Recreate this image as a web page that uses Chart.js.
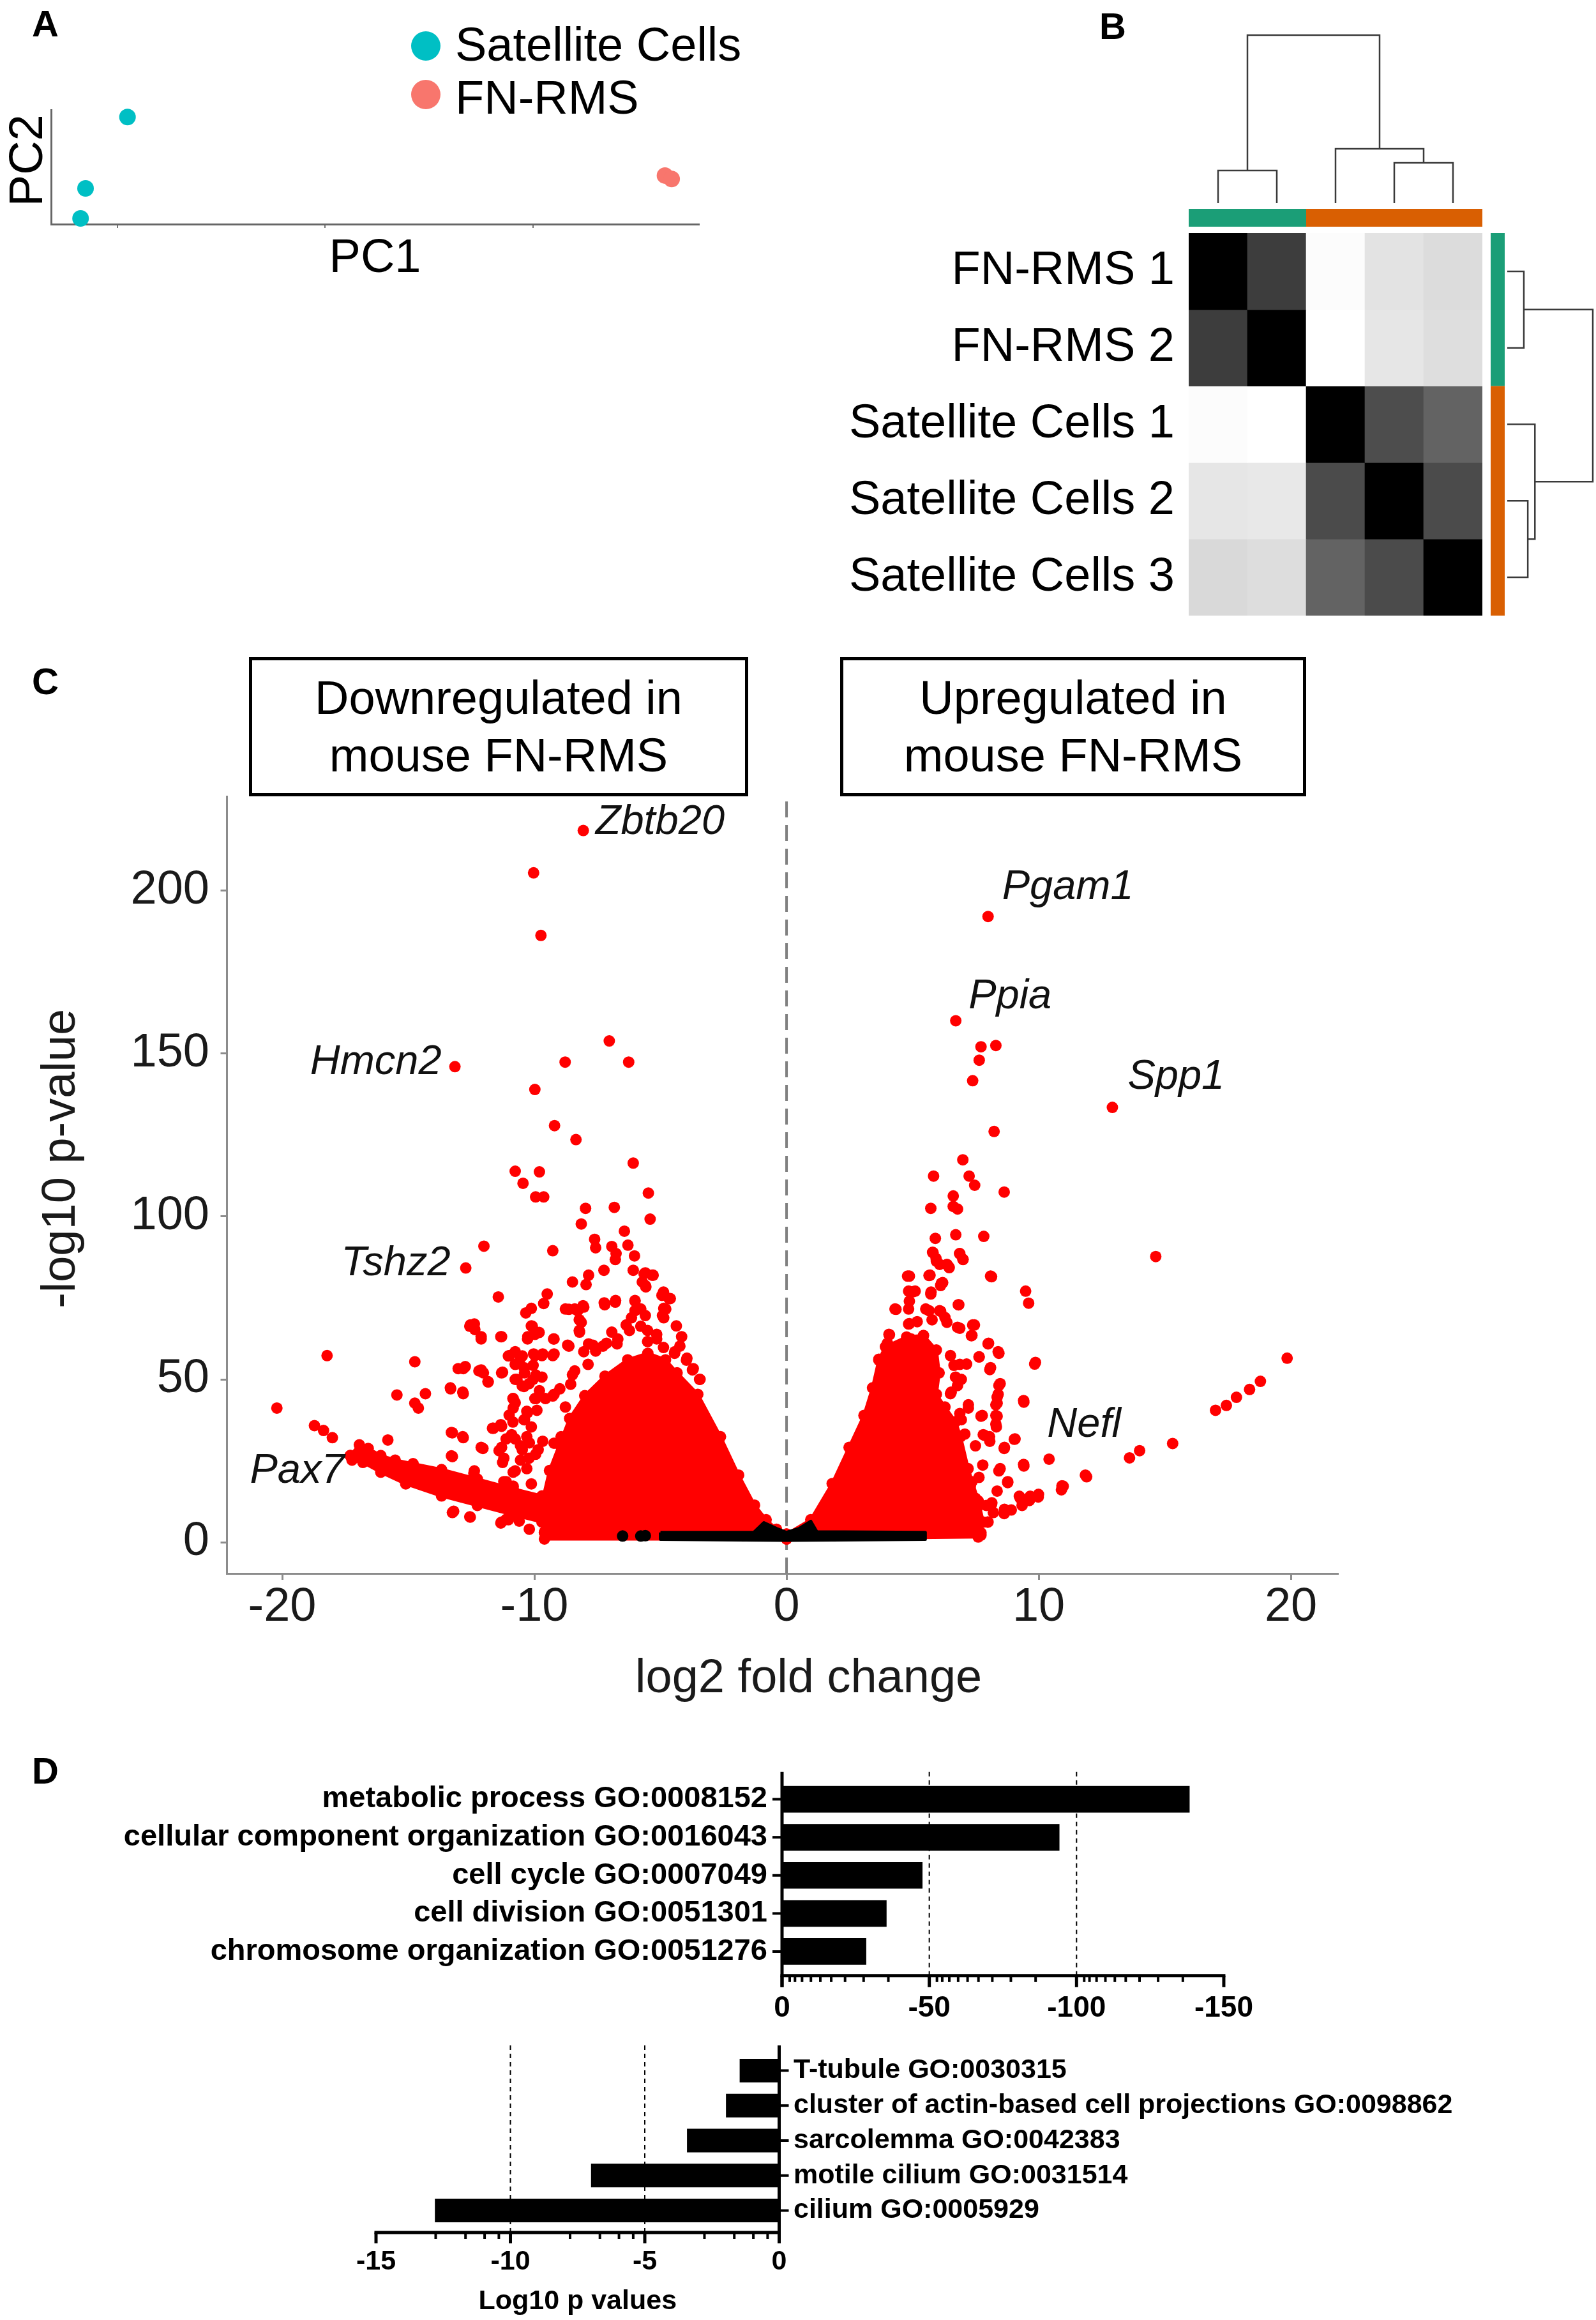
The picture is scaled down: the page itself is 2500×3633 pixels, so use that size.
<!DOCTYPE html>
<html>
<head>
<meta charset="utf-8">
<title>FN-RMS figure</title>
<script src="https://cdn.jsdelivr.net/npm/chart.js@4.4.1/dist/chart.umd.min.js"></script>
<style>
html, body { margin:0; padding:0; background:#fff; }
body { position:relative; width:2500px; height:3633px; overflow:hidden; font-family:'Liberation Sans', Arial, Helvetica, sans-serif; color:#000; }
canvas { position:absolute; }
.panel { position:absolute; font-weight:bold; font-size:58px; line-height:58px; }
.box { position:absolute; border:5px solid #000; box-sizing:border-box; display:flex; align-items:center; justify-content:center; text-align:center; font-size:74px; line-height:90px; }
.legdot { position:absolute; width:46px; height:46px; border-radius:50%; }
.legtxt { position:absolute; font-size:74px; line-height:74px; white-space:nowrap; }
</style>
</head>
<body>
<div class="panel" style="left:50px;top:8px;">A</div>
<div class="panel" style="left:1722px;top:12px;">B</div>
<div class="panel" style="left:50px;top:1038px;">C</div>
<div class="panel" style="left:50px;top:2744px;">D</div>
<div class="box" style="left:390px;top:1029px;width:782px;height:218px;">Downregulated in<br>mouse FN-RMS</div>
<div class="box" style="left:1316px;top:1029px;width:730px;height:218px;">Upregulated in<br>mouse FN-RMS</div>
<script>
// ---------------- DATA ----------------
// Panel A: PCA
const pcaGroups = ['Satellite Cells', 'FN-RMS'];
const pcaColors = ['#00BFC4', '#F8766D'];
const satPC1 = [-47.6, -57.7, -58.9];
const satPC2 = [17.5, -7.5, -18.0];
const fnPC1 = [81.8, 83.4];
const fnPC2 = [-3.0, -4.2];
const pcaXTicks = [-50, 0, 50];

// Panel B: sample-distance heatmap (darkness 0 = white, 1 = black)
const samples = ['FN-RMS 1', 'FN-RMS 2', 'Satellite Cells 1', 'Satellite Cells 2', 'Satellite Cells 3'];
const sampleGroup = [0, 0, 1, 1, 1];
const groupColors = ['#1B9E77', '#D95F02'];
const similarity = [
  [1.00, 0.76, 0.012, 0.11, 0.137],
  [0.76, 1.00, 0.00, 0.098, 0.129],
  [0.012, 0.00, 1.00, 0.70, 0.61],
  [0.10, 0.09, 0.706, 1.00, 0.706],
  [0.149, 0.133, 0.61, 0.706, 1.00]
];
// hierarchical merges: [nodeA, nodeB, height]; nodes 0-4 leaves, 5+ previous merges
const merges = [[0, 1, 0.194], [3, 4, 0.240], [2, 6, 0.323], [5, 7, 1.0]];

// Panel C: volcano plot  [log2 fold change, -log10 p]
const volcanoXTicks = [-20, -10, 0, 10, 20];
const volcanoYTicks = [0, 50, 100, 150, 200];
const downGenes = [
[-8.06,218.5],[-10.03,205.5],[-9.74,186.3],[-7.03,153.9],[-8.78,147.4],[-6.26,147.4],[-13.15,146.0],[-9.98,139.0],[-9.20,127.9],[-8.35,123.6],[-6.08,116.4],[-10.76,113.9],[-9.80,113.7],[-10.45,110.2],[-9.95,106.0],[-9.63,106.0],[-5.48,107.2],[-7.97,102.5],[-6.83,102.8],[-5.41,99.2],
[-8.14,97.7],[-6.43,95.5],[-12.0,90.9],[-9.27,89.5],[-12.72,84.2],[-7.61,93.0],[-7.57,90.4],[-6.93,90.8],[-6.76,88.6],[-6.29,91.2],[-6.03,87.9],[-6.79,86.8],[-7.24,83.5],[-7.85,82.0],[-7.95,79.1],[-8.49,79.9],[-6.08,83.5],[-5.65,82.4],[-5.29,82.0],[-5.72,79.9],[-5.58,78.4],[-11.43,75.3],[-9.49,76.2],[-9.63,73.3],[-10.12,71.8],[-10.34,70.4],[-7.21,72.9],[-6.79,73.7],[-8.63,71.5],[-8.28,71.1],[-8.07,72.6],[-6.01,74.0],[-4.94,75.8],[-4.66,74.8],[-4.87,71.8],[-4.87,68.9],[-6.15,68.9],[-6.36,66.7],[-6.01,71.1],[-12.54,66.7],[-12.36,65.3],[-12.11,62.4],[-11.33,63.1],[-10.12,66.4],[-9.98,63.8],[-10.27,62.4],[-9.24,62.4],[-8.63,60.2],[-8.14,67.5],[-8.21,64.5],[-4.37,66.4],[-4.16,63.1],[-4.23,60.2],[-5.15,63.8],[-5.51,61.6],[-6.93,64.5],[-6.72,60.9],[-7.28,60.2],[-7.85,60.9],[-7.57,58.7],
[-18.22,57.3],[-14.74,55.4],[-12.82,53.3],[-12.11,52.9],[-11.83,49.2],[-11.26,52.2],[-10.98,57.3],[-10.55,56.5],[-10.41,53.6],[-9.98,57.3],[-9.70,57.3],[-9.27,57.3],[-10.05,54.3],[-10.69,50.0],[-10.05,50.0],[-9.70,50.7],[-10.41,47.8],[-4.44,58.0],[-3.95,56.5],[-3.73,52.9],[-3.45,50.0],[-8.49,51.4],
[-15.45,45.2],[-14.32,45.6],[-13.32,47.1],[-12.82,45.6],[-14.74,42.7],[-14.60,41.2],[-10.84,44.1],[-9.98,44.1],[-9.56,44.1],[-10.84,41.2],[-10.27,39.8],[-9.27,44.9],[-8.99,47.1],[-8.56,48.5],[-7.99,44.9],[-7.43,47.1],
[-20.21,41.2],[-18.72,35.8],[-18.36,34.3],[-18.01,32.1],[-13.25,33.6],[-12.82,32.1],[-11.62,35.0],[-11.33,36.1],[-15.81,31.4],[-12.04,28.8],[-13.25,26.3],[-12.40,21.2],[-11.12,18.6],[-13.25,9.1],[-12.54,7.7],[-11.33,5.9],[-11.12,7.0],[-11.26,24.5],[-10.84,21.5],
[-11.12,31.7],[-10.55,29.6],[-11.4,28.1],[-10.55,25.2],[-10.12,35.4],[-10.41,37.6],[-11.26,15.0],[-10.41,13.5],[-10.12,17.9],[-10.84,17.2],[-10.2,30.5],[-9.95,27.0],[-10.9,33.0],[-11.0,39.0],[-9.9,40.5],[-9.8,46.5],
[-10.2,4.0],[-10.6,6.5],[-10.0,10.0],
[-5.60,82.7],[-5.33,82.0],[-5.60,78.8],[-4.88,76.8],[-4.61,74.8],[-4.79,71.6],[-4.92,69.6],[-6.01,74.2],[-5.78,71.6],[-5.60,69.6],[-7.23,73.5],[-6.78,74.2],[-8.77,71.6],[-8.40,71.6],[-8.04,72.2],[-8.22,68.3],[-8.22,65.0],[-9.22,62.4],[-8.68,60.5],[-10.08,66.3],[-9.81,64.4],[-10.26,63.1],[-11.30,63.1],[-12.56,66.3],[-12.38,67.0],[-12.11,63.1],[-11.03,57.2],[-10.76,58.5],[-10.48,57.2],[-10.03,57.8],[-9.67,57.8],[-9.22,57.8],[-10.76,54.6],[-10.39,52.0],[-9.94,51.3],[-10.76,50.0],[-10.48,48.0],[-10.21,48.7],[-11.30,52.0],[-13.02,53.3],[-12.74,53.9],[-12.20,52.6],[-12.02,52.0],[-11.84,49.3],[-13.33,47.4],[-12.84,46.1],[-10.85,44.1],[-10.76,42.8],[-9.94,44.1],[-10.30,40.2],[-10.39,37.6],[-10.85,36.9],[-11.30,35.6],[-11.66,35.0],[-13.29,33.7],[-12.84,32.4],[-12.11,29.1],[-13.29,26.5],[-11.30,29.1],[-11.21,25.8],[-10.76,31.7],[-10.30,32.4],[-10.48,28.4],[-10.21,25.8],[-9.85,28.4],[-9.67,31.0],[-9.22,30.4],[-8.94,32.4],[-12.38,21.9],[-11.21,18.6],[-10.76,21.9],[-10.30,22.6],[-13.20,9.5],[-12.56,7.8],[-11.30,6.2],[-11.03,6.9],[-9.58,5.6],[-8.77,3.6],[-8.22,2.6],[-7.68,2.6],[-8.40,37.6],[-8.04,36.9],[-8.40,34.3],[-8.77,41.5],[-9.22,45.4],[-8.40,52.6],[-7.87,54.6],[-8.04,58.5],[-7.68,60.5],[-7.14,61.1],[-6.69,62.4],[-6.23,65.0],[-5.78,66.3],[-5.51,65.0],[-5.15,62.4],[-4.88,59.8],[-4.43,58.5],[-3.97,55.9],[-3.70,53.3],[-3.43,50.0]
];
const upGenes = [
[7.99,192.1],[6.71,160.1],[7.71,152.1],[8.30,152.5],[7.64,148.0],[7.38,141.7],[12.92,133.5],[8.23,126.1],[6.99,117.4],[5.83,112.4],[7.24,112.4],[7.46,109.6],[8.63,107.5],[6.61,106.3],[5.72,102.5],[6.61,103.1],[6.78,102.3],
[6.71,94.4],[7.82,93.9],[5.90,93.3],[5.79,89.0],[5.93,87.1],[6.86,88.6],[7.00,86.8],[6.07,85.3],[6.43,84.6],[14.64,87.7],[4.87,81.7],[5.65,81.9],[6.14,79.5],[8.13,81.5],[9.48,77.1],[9.60,73.4],[5.72,76.2],[5.01,76.9],[4.87,74.0],[6.81,72.9],[4.34,71.5],[5.65,71.1],[6.07,71.1],[4.87,67.1],[6.36,67.5],[6.78,66.0],[7.45,66.7],[7.35,63.5],[4.06,63.8],[4.94,62.4],[7.99,60.9],[8.42,58.0],[7.64,56.9],[9.84,54.7],[3.66,56.2],[7.14,54.7],[8.06,53.0],[8.42,48.1],[6.78,48.1],
[19.85,56.5],[18.79,49.4],[18.36,46.9],[17.84,44.5],[17.44,42.0],[17.01,40.5],
[9.41,43.0],[8.35,44.5],[8.35,42.7],[7.71,38.7],[8.35,38.7],[8.32,35.4],[7.85,32.8],[8.06,31.0],[9.03,31.6],[8.63,28.8],[10.41,25.5],[15.31,30.3],[14.00,28.1],[13.60,25.9],[9.41,23.4],[8.42,21.9],[11.90,20.1],[8.77,18.3],[10.97,17.2],[10.90,16.1],[9.98,13.9],[9.63,12.8],[9.27,13.5],[9.34,11.3],[8.91,9.9],[8.63,8.8],[8.20,9.1],[7.92,11.3],[8.13,11.7],[7.71,2.2],[7.99,6.2],[7.49,13.5],[7.56,10.6],[7.21,12.8],
[6.50,57.3],[6.64,54.3],[6.93,50.0],[6.50,45.6],[7.21,41.2],[6.93,37.6],[7.07,33.2],[7.49,29.6],[6.93,25.2],[7.78,23.7],[7.35,18.6],[6.64,15.0],[8.35,15.7],[6.50,9.9],[7.21,7.7],[6.64,4.8],[6.07,3.3],[7.07,3.3],
[5.81,88.9],[6.87,88.6],[6.99,86.9],[5.94,86.3],[6.36,85.3],[6.45,84.3],[4.80,81.7],[5.69,82.0],[6.19,79.7],[6.11,78.8],[8.09,81.7],[4.84,77.1],[5.10,77.1],[5.73,76.8],[6.83,72.9],[4.30,71.6],[4.84,71.6],[5.52,71.6],[6.11,70.9],[4.84,67.0],[5.18,67.7],[5.77,68.3],[6.28,69.0],[6.87,65.7],[7.38,66.7],[7.33,63.4],[4.08,63.7],[4.00,61.1],[8.01,61.1],[8.39,58.5],[7.63,56.9],[8.09,53.6],[9.87,55.2],[6.87,54.6],[6.70,50.7],[6.53,46.1],[8.47,48.7],[8.39,45.4],[8.30,42.2],[8.30,38.9],[8.30,36.3],[9.40,43.5],[7.21,42.2],[6.87,39.5],[7.76,38.9],[7.80,33.0],[8.05,32.4],[9.06,31.7],[8.64,29.1],[9.40,23.9],[8.47,22.6],[8.77,18.6],[9.23,14.1],[9.66,14.1],[9.99,14.7],[11.85,20.6],[10.92,17.3],[8.64,10.1],[8.14,12.1],[7.97,6.2],[7.71,2.9],[7.12,21.9],[7.63,19.9],[7.29,17.3]
];
// outlines of the densely overplotted regions
const downCloud = [[-9.6,3.0],[-9.7,12.0],[-9.4,22.0],[-9.0,30.0],[-8.6,38.0],[-8.0,45.0],[-7.2,51.0],[-6.3,56.0],[-5.5,58.0],[-4.8,56.0],[-4.34,52.0],[-3.52,45.4],[-2.62,32.4],[-1.90,20.6],[-1.27,11.4],[-0.81,6.9],[-0.40,4.0],[0.0,2.2],[0.0,1.0],[-9.6,1.0],[-9.6,3.0]];
const pax7Band = [[-17.30,26.6],[-16.94,29.9],[-16.59,28.8],[-16.09,26.6],[-15.52,25.2],[-14.81,24.1],[-13.68,22.3],[-12.26,19.4],[-10.84,16.4],[-9.70,14.2],[-9.70,6.2],[-10.84,8.4],[-12.26,11.3],[-13.68,14.2],[-15.10,17.9],[-16.09,21.5],[-16.80,24.5],[-17.23,25.2],[-17.30,26.6]];
const upCloud = [[0.0,2.5],[0.96,6.9],[1.81,18.0],[2.48,29.1],[3.07,38.9],[3.41,47.4],[3.66,55.9],[3.92,60.0],[4.76,63.0],[5.43,63.5],[5.94,59.0],[6.05,52.0],[5.94,45.4],[6.28,41.5],[6.70,37.0],[6.90,32.4],[7.20,22.6],[7.60,12.7],[7.80,6.2],[7.60,1.6],[0.0,1.0],[0.0,2.5]];
const nsCloud = [[-5.0,3.0],[-1.3,3.0],[-0.9,6.0],[-0.4,4.2],[0.0,3.0],[0.5,4.2],[0.96,6.4],[1.2,3.2],[5.5,3.0],[5.5,0.9],[0.0,0.6],[-5.0,0.9],[-5.0,3.0]];
const nsGenes = [[-6.5,1.9],[-5.78,1.9],[-5.6,2.0]];
const labelGenes = ['Zbtb20', 'Pgam1', 'Ppia', 'Spp1', 'Hmcn2', 'Tshz2', 'Pax7', 'Nefl'];
const labelLog2FC = [-8.06, 7.99, 6.71, 12.92, -13.15, -12.72, -17.23, 10.41];
const labelLogP = [218.5, 192.1, 160.1, 133.5, 146.0, 84.2, 25.2, 25.5];

// Panel D: GO enrichment
const bpTerms = ['metabolic process GO:0008152', 'cellular component organization GO:0016043', 'cell cycle GO:0007049', 'cell division GO:0051301', 'chromosome organization GO:0051276'];
const bpValues = [-138.4, -94.2, -47.7, -35.5, -28.6];
const bpMajorTicks = [0, -50, -100, -150];
const bpMinorTicks = [-2.6,-4.4,-6.8,-9.8,-13,-16.7,-21.4,-27.7,-36.1,-52.6,-54.4,-56.8,-59.8,-63,-66.7,-71.4,-77.7,-86.1,-102.6,-104.4,-106.8,-109.8,-113,-116.7,-121.4,-127.7,-136.1];
const bpGrid = [-50, -100];
const ccTerms = ['T-tubule GO:0030315', 'cluster of actin-based cell projections GO:0098862', 'sarcolemma GO:0042383', 'motile cilium GO:0031514', 'cilium GO:0005929'];
const ccValues = [-1.47, -1.98, -3.43, -7.0, -12.81];
const ccMajorTicks = [-15, -10, -5, 0];
const ccMinorTicks = [-10.43,-10.96,-11.67,-12.78,-5.43,-5.96,-6.67,-7.78,-0.43,-0.96,-1.67,-2.78];
const ccGrid = [-10, -5];

// ---------------- SETUP ----------------
const FONT = "'Liberation Sans', Arial, Helvetica, sans-serif";
Chart.defaults.font.family = FONT;
Chart.defaults.color = '#000';
Chart.defaults.animation = false;
Chart.defaults.responsive = false;
Chart.defaults.devicePixelRatio = 1;
Chart.defaults.events = [];
Chart.defaults.plugins.legend.display = false;
Chart.defaults.plugins.tooltip.enabled = false;

function makeCanvas(left, top, w, h) {
  const c = document.createElement('canvas');
  c.width = w; c.height = h;
  c.style.left = left + 'px'; c.style.top = top + 'px';
  c.style.width = w + 'px'; c.style.height = h + 'px';
  document.body.appendChild(c);
  return c.getContext('2d');
}
const fixW = w => s => { s.width = w; };
const fixH = h => s => { s.height = h; };
const setTicks = arr => s => { s.ticks = arr.map(v => ({ value: v })); };
const pts = arr => arr.map(([x, y]) => ({ x, y }));

// ---------------- PANEL A ----------------
pcaGroups.forEach((g, i) => {
  const d = document.createElement('div');
  d.className = 'legdot';
  d.style.background = pcaColors[i];
  d.style.left = '644px'; d.style.top = (49 + i * 76) + 'px';
  document.body.appendChild(d);
  const t = document.createElement('div');
  t.className = 'legtxt';
  t.textContent = g;
  t.style.left = '713px'; t.style.top = (33 + i * 83) + 'px';
  document.body.appendChild(t);
});

new Chart(makeCanvas(0, 0, 1200, 470), {
  type: 'scatter',
  data: { datasets: [
    { label: pcaGroups[0], data: satPC1.map((x, i) => ({ x, y: satPC2[i] })), backgroundColor: pcaColors[0], pointRadius: 13, borderWidth: 0, clip: false },
    { label: pcaGroups[1], data: fnPC1.map((x, i) => ({ x, y: fnPC2[i] })), backgroundColor: pcaColors[1], pointRadius: 13, borderWidth: 0, clip: false }
  ]},
  options: {
    layout: { padding: { top: 172, right: 105, bottom: 19, left: 0 } },
    scales: {
      x: { type: 'linear', min: -66, max: 90, afterBuildTicks: setTicks(pcaXTicks), afterFit: fixH(100),
        grid: { display: true, drawOnChartArea: false, drawTicks: true, tickLength: 6, color: '#777', lineWidth: 2 },
        border: { display: true, color: '#666', width: 3 },
        ticks: { display: false },
        title: { display: true, text: 'PC1', font: { size: 74, lineHeight: 1 }, padding: { top: 0, bottom: 8 } } },
      y: { type: 'linear', min: -20, max: 20, afterFit: fixW(80),
        grid: { display: false }, border: { display: true, color: '#666', width: 3 }, ticks: { display: false },
        title: { display: true, text: ' PC2', font: { size: 74, lineHeight: 1 }, padding: { top: 9, bottom: 0 } } }
    }
  }
});

// ---------------- PANEL B ----------------
const hm = { left: 562, top: 365, right: 1022, bottom: 964 };   // chart area inside canvas
const topDenPx = { zero: 318, one: 55 };     // pixel rows for dendrogram heights 0 and 1
const sideDenPx = { zero: 1061, one: 1195 }; // pixel columns for side dendrogram
function rangeFor(p0, p1, start, len, inverted) {
  const a = inverted ? (start - p0) / len : (p0 - start) / len;
  const b = inverted ? (start - p1) / len : (p1 - start) / len;
  const R = 1 / (b - a); const min = -a * R; return { min, max: min + R };
}
const yDenR = rangeFor(topDenPx.zero, topDenPx.one, hm.bottom, hm.bottom - hm.top, true);
const xDenR = rangeFor(sideDenPx.zero, sideDenPx.one, hm.left, hm.right - hm.left, false);

function dendroLinks(mg, n) {
  const pos = [], hgt = [], links = [];
  for (let i = 0; i < n; i++) { pos.push(i + 0.5); hgt.push(0); }
  mg.forEach(([a, b, h]) => {
    links.push([[pos[a], hgt[a]], [pos[a], h], [pos[b], h], [pos[b], hgt[b]]]);
    pos.push((pos[a] + pos[b]) / 2); hgt.push(h);
  });
  return links;
}
const links = dendroLinks(merges, samples.length);
const cellGray = v => { const g = Math.round(255 * (1 - v)); return `rgb(${g},${g},${g})`; };
const denStyle = { type: 'line', borderColor: '#3a3a3a', borderWidth: 2.5, pointRadius: 0, fill: false, clip: false, tension: 0 };

const annotPlugin = {
  id: 'annot',
  afterDatasetsDraw(chart) {
    const { ctx, chartArea: a, scales: { x, y } } = chart;
    ctx.save();
    let i = 0;
    while (i < sampleGroup.length) {
      let j = i; while (j + 1 < sampleGroup.length && sampleGroup[j + 1] === sampleGroup[i]) j++;
      ctx.fillStyle = groupColors[sampleGroup[i]];
      const x0 = x.getPixelForValue(i), x1 = x.getPixelForValue(j + 1);
      ctx.fillRect(x0, a.top - 38, x1 - x0, 28);
      const y0 = y.getPixelForValue(i), y1 = y.getPixelForValue(j + 1);
      ctx.fillRect(a.right + 13, y0, 22, y1 - y0);
      i = j + 1;
    }
    ctx.restore();
  }
};

new Chart(makeCanvas(1300, 0, 1200, 1040), {
  type: 'bar',
  data: { datasets: [
    ...samples.map((name, r) => ({
      type: 'bar', label: name, data: samples.map((_, c) => ({ x: c + 0.5, y: [r, r + 1] })),
      backgroundColor: similarity[r].map(cellGray), barPercentage: 1, categoryPercentage: 1, grouped: false, borderWidth: 0
    })),
    ...links.map(l => ({ ...denStyle, xAxisID: 'x', yAxisID: 'yDen', data: l.map(([p, h]) => ({ x: p, y: h })) })),
    ...links.map(l => ({ ...denStyle, indexAxis: 'y', xAxisID: 'xDen', yAxisID: 'y', data: l.map(([p, h]) => ({ x: h, y: p })) }))
  ]},
  options: {
    layout: { padding: { left: 22, top: 365, right: 178, bottom: 76 } },
    scales: {
      x: { type: 'linear', min: 0, max: 5, display: false, offset: false, grid: { offset: false }, ticks: { stepSize: 1 } },
      y: { type: 'linear', min: 0, max: 5, reverse: true, position: 'left', beginAtZero: false,
        afterBuildTicks: s => { s.ticks = samples.map((_, i) => ({ value: i + 0.5 })); },
        afterFit: fixW(540),
        ticks: { callback: v => samples[Math.floor(v)], font: { size: 74, lineHeight: 1 }, padding: 22, color: '#000', autoSkip: false },
        grid: { display: false, drawTicks: false }, border: { display: false } },
      yDen: { type: 'linear', position: 'left', display: false, beginAtZero: false, min: yDenR.min, max: yDenR.max },
      xDen: { type: 'linear', position: 'bottom', display: false, offset: false, grid: { offset: false }, min: xDenR.min, max: xDenR.max }
    }
  },
  plugins: [annotPlugin]
});

// ---------------- PANEL C ----------------
const labelStyle = {
  Zbtb20: { dx: 19, dy: -13, align: 'left' },
  Pgam1: { dx: 22, dy: -45, align: 'left' },
  Ppia: { dx: 20, dy: -38, align: 'left' },
  Spp1: { dx: 24, dy: -47, align: 'left' },
  Hmcn2: { dx: -21, dy: -6, align: 'right' },
  Tshz2: { dx: -24, dy: -7, align: 'right' },
  Pax7: { dx: -160, dy: 17, align: 'left' },
  Nefl: { dx: -3, dy: -53, align: 'left' }
};
const geneLabelPlugin = {
  id: 'geneLabels',
  afterDatasetsDraw(chart) {
    const { ctx, scales: { x, y } } = chart;
    ctx.save();
    ctx.font = "italic 65px " + FONT;
    ctx.fillStyle = '#111';
    ctx.textBaseline = 'middle';
    labelGenes.forEach((g, i) => {
      const st = labelStyle[g];
      ctx.textAlign = st.align;
      ctx.fillText(g, x.getPixelForValue(labelLog2FC[i]) + st.dx, y.getPixelForValue(labelLogP[i]) + st.dy);
    });
    ctx.restore();
  }
};
const volMin = -9.6, volMax = 229.0;
const cloudStyle = (color, r) => ({ type: 'line', fill: 'shape', backgroundColor: color, borderColor: color, borderWidth: 5, borderJoinStyle: 'round', pointRadius: r, pointBackgroundColor: color, pointBorderWidth: 0, tension: 0 });

new Chart(makeCanvas(0, 1000, 2200, 1700), {
  type: 'scatter',
  data: { datasets: [
    { label: 'not significant', data: pts(nsGenes), backgroundColor: '#000', pointRadius: 9, borderWidth: 0, order: 1 },
    { ...cloudStyle('#000', 0), label: 'not significant (dense)', data: pts(nsCloud), order: 2 },
    { label: 'down', data: pts(downGenes), backgroundColor: '#FF0000', pointRadius: 9, borderWidth: 0, order: 3 },
    { label: 'up', data: pts(upGenes), backgroundColor: '#FF0000', pointRadius: 9, borderWidth: 0, order: 3 },
    { ...cloudStyle('#FF0000', 9), label: 'down (dense)', data: pts(downCloud), order: 4 },
    { ...cloudStyle('#FF0000', 9), label: 'down band', data: pts(pax7Band), order: 4 },
    { ...cloudStyle('#FF0000', 9), label: 'up (dense)', data: pts(upCloud), order: 4 },
    { type: 'line', label: 'zero', data: [{ x: 0, y: volMin }, { x: 0, y: volMax }], borderColor: '#808080', borderWidth: 4, borderDash: [25, 12], pointRadius: 0, fill: false, order: 5 }
  ]},
  options: {
    layout: { padding: { left: 0, top: 247, right: 104.4, bottom: 24 } },
    scales: {
      x: { type: 'linear', min: -22.19, max: 21.86, afterBuildTicks: setTicks(volcanoXTicks), afterFit: fixH(212),
        grid: { display: true, drawOnChartArea: false, drawTicks: true, tickLength: 10, color: '#8c8c8c', lineWidth: 3 },
        border: { display: true, color: '#8c8c8c', width: 3 },
        ticks: { font: { size: 74, lineHeight: 1 }, padding: 7, color: '#1a1a1a', maxRotation: 0, autoSkip: false },
        title: { display: true, text: '    log2 fold change', color: '#1a1a1a', font: { size: 74, lineHeight: 1 }, padding: { top: 0, bottom: 9 } } },
      y: { type: 'linear', min: volMin, max: volMax, afterBuildTicks: setTicks(volcanoYTicks), afterFit: fixW(355.5),
        grid: { display: true, drawOnChartArea: false, drawTicks: true, tickLength: 10, color: '#8c8c8c', lineWidth: 3 },
        border: { display: true, color: '#8c8c8c', width: 3 },
        ticks: { font: { size: 74, lineHeight: 1 }, padding: 17.5, color: '#1a1a1a', autoSkip: false },
        title: { display: true, text: '    -log10 p-value', color: '#1a1a1a', font: { size: 74, lineHeight: 1 }, padding: { top: 60, bottom: 0 } } }
    }
  },
  plugins: [geneLabelPlugin]
});

// ---------------- PANEL D ----------------
const prismAxes = {
  id: 'prismAxes',
  beforeDatasetsDraw(chart, args, o) {
    const { ctx, chartArea: a, scales: { x } } = chart;
    const axisY = a.bottom + o.axisGap;
    ctx.save();
    ctx.strokeStyle = '#000'; ctx.lineWidth = 2; ctx.setLineDash([7, 6]);
    o.grids.forEach(v => {
      const px = x.getPixelForValue(v);
      ctx.beginPath(); ctx.moveTo(px, a.top - o.topGap); ctx.lineTo(px, axisY); ctx.stroke();
    });
    ctx.restore();
  },
  afterDatasetsDraw(chart, args, o) {
    const { ctx, chartArea: a, scales: { x, y } } = chart;
    const axisY = a.bottom + o.axisGap;
    const x0 = o.side === 'left' ? a.left : a.right;
    const seg = (x1, y1, x2, y2) => { ctx.beginPath(); ctx.moveTo(x1, y1); ctx.lineTo(x2, y2); ctx.stroke(); };
    ctx.save();
    ctx.strokeStyle = '#000'; ctx.lineCap = 'butt';
    ctx.lineWidth = 5;
    seg(x0, a.top - o.topGap, x0, axisY + o.majorLen);
    const xs = o.majors.map(v => x.getPixelForValue(v));
    seg(Math.min(...xs) - 2.5, axisY, Math.max(...xs) + 2.5, axisY);
    xs.forEach(px => seg(px, axisY, px, axisY + o.majorLen));
    ctx.lineWidth = 4;
    o.minors.forEach(v => { const px = x.getPixelForValue(v); seg(px, axisY, px, axisY + o.minorLen); });
    const dir = o.side === 'left' ? -1 : 1;
    chart.data.labels.forEach((_, i) => { const py = y.getPixelForValue(i); seg(x0, py, x0 + dir * 15, py); });
    ctx.restore();
  }
};

new Chart(makeCanvas(0, 2700, 2000, 500), {
  type: 'bar',
  data: { labels: bpTerms, datasets: [{ label: 'Biological process', data: bpValues, backgroundColor: '#000', borderWidth: 0, barPercentage: 0.7, categoryPercentage: 1 }] },
  options: {
    indexAxis: 'y',
    layout: { padding: { left: 0, top: 87.7, right: 79, bottom: 14.2 } },
    scales: {
      x: { type: 'linear', min: -150, max: 0, reverse: true, afterBuildTicks: setTicks(bpMajorTicks), afterFit: fixH(100),
        grid: { display: false, drawTicks: false }, border: { display: false },
        ticks: { font: { size: 46, weight: 'bold', lineHeight: 1 }, padding: 37, maxRotation: 0, autoSkip: false } },
      y: { type: 'category', afterFit: fixW(1225),
        grid: { display: false, drawTicks: false }, border: { display: false },
        ticks: { font: { size: 47, weight: 'bold' }, padding: 23, autoSkip: false } }
    },
    plugins: { prismAxes: { side: 'left', axisGap: 8, topGap: 13, majorLen: 18, minorLen: 10, majors: bpMajorTicks, minors: bpMinorTicks, grids: bpGrid } }
  },
  plugins: [prismAxes]
});

new Chart(makeCanvas(0, 3100, 2400, 533), {
  type: 'bar',
  data: { labels: ccTerms, datasets: [{ label: 'Cellular component', data: ccValues, backgroundColor: '#000', borderWidth: 0, barPercentage: 0.675, categoryPercentage: 1 }] },
  options: {
    indexAxis: 'y',
    layout: { padding: { left: 589, top: 115, right: 79.5, bottom: 6 } },
    scales: {
      x: { type: 'linear', min: -15, max: 0, afterBuildTicks: setTicks(ccMajorTicks), afterFit: fixH(138),
        grid: { display: false, drawTicks: false }, border: { display: false },
        ticks: { font: { size: 43, weight: 'bold', lineHeight: 1 }, padding: 31.5, maxRotation: 0, autoSkip: false },
        title: { display: true, text: 'Log10 p values', font: { size: 43, weight: 'bold', lineHeight: 1 }, padding: { top: 0, bottom: 1 } } },
      y: { type: 'category', position: 'right', afterFit: fixW(1100),
        grid: { display: false, drawTicks: false }, border: { display: false },
        ticks: { font: { size: 43, weight: 'bold' }, padding: 22.5, autoSkip: false } }
    },
    plugins: { prismAxes: { side: 'right', axisGap: 7, topGap: 12, majorLen: 17, minorLen: 10, majors: ccMajorTicks, minors: ccMinorTicks, grids: ccGrid } }
  },
  plugins: [prismAxes]
});
</script>
</body>
</html>
